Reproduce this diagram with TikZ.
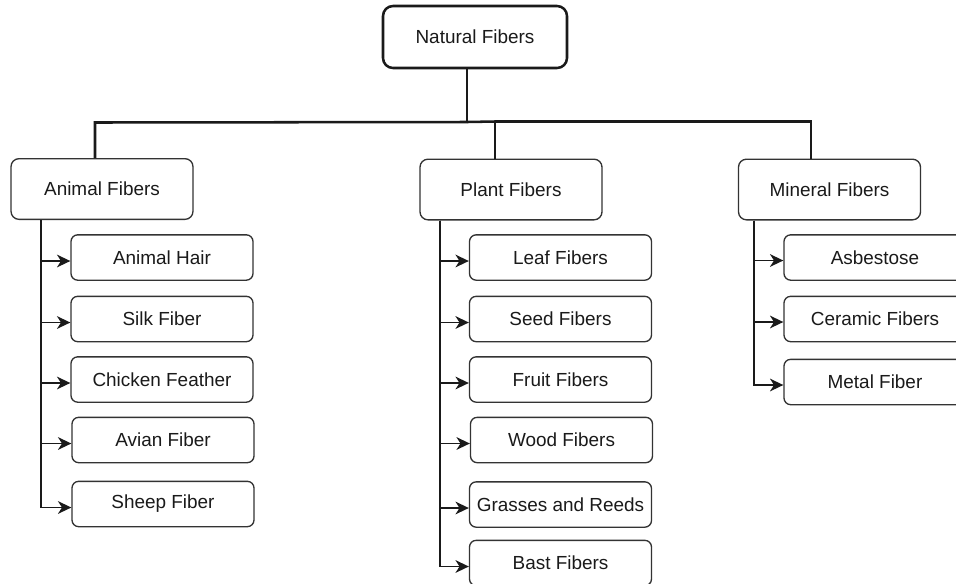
\documentclass[tikz,border=0pt]{standalone}
\usepackage{fontspec}
\setmainfont{Liberation Sans}
\usetikzlibrary{arrows.meta,calc}
\definecolor{ink}{HTML}{1A1A1A}
\definecolor{edge}{HTML}{333333}
\begin{document}
\begin{tikzpicture}[x=0.75pt,y=-0.75pt,
  txt/.style={font=\fontsize{14.2}{17}\selectfont, text=ink, inner sep=0pt},
  topbox/.style={txt, draw=ink, line width=1.9pt, rounded corners=7.5pt, minimum width=138pt, minimum height=46.5pt},
  catbox/.style={txt, draw=edge, line width=1pt, rounded corners=6pt, minimum width=136.5pt, minimum height=45.5pt},
  leafbox/.style={txt, draw=edge, line width=1pt, rounded corners=5pt, minimum width=136.5pt, minimum height=34pt},
  bus/.style={draw=ink, line width=1.9pt},
  conn/.style={draw=ink, line width=1.2pt, -{Stealth[length=10pt,width=9.5pt,inset=3pt]}}
]
\useasboundingbox (0,0) rectangle (956,583);
\fill[white] (0,0) rectangle (956,583);

% top
\node[topbox] (nat) at (475,37) {Natural Fibers};

% categories
\node[catbox] (animal)  at (102,189)    {Animal Fibers};
\node[catbox] (plant)   at (511,189.5)  {Plant Fibers};
\node[catbox] (mineral) at (829.5,189.5){Mineral Fibers};

% animal children
\node[leafbox] (a1) at (162,257.5) {Animal Hair};
\node[leafbox] (a2) at (162,319)   {Silk Fiber};
\node[leafbox] (a3) at (162,379.5) {Chicken Feather};
\node[leafbox] (a4) at (163,440)   {Avian Fiber};
\node[leafbox] (a5) at (163,504)   {Sheep Fiber};

% plant children
\node[leafbox] (p1) at (560.5,257.5) {Leaf Fibers};
\node[leafbox] (p2) at (560.5,319)   {Seed Fibers};
\node[leafbox] (p3) at (560.5,379.5) {Fruit Fibers};
\node[leafbox] (p4) at (561.5,440)   {Wood Fibers};
\node[leafbox] (p5) at (560.5,504.5) {Grasses and Reeds};
\node[leafbox] (p6) at (560.5,563)   {Bast Fibers};

% mineral children
\node[leafbox] (m1) at (875,257.5) {Asbestose};
\node[leafbox] (m2) at (875,319)   {Ceramic Fibers};
\node[leafbox] (m3) at (875,382)   {Metal Fiber};

% bus
\coordinate (b0) at (467,122);
\coordinate (ba) at (95,122.5);
\coordinate (bp) at (495,121.5);
\coordinate (bm) at (811,121.5);
\draw[bus] (b0 |- nat.south) -- (b0);
\draw[bus] (b0) -- (ba) -- (ba |- animal.north);
\draw[bus] (b0) -- (bp);
\draw[bus] (bp |- bm) -- (bm) -- (bm |- mineral.north);
\draw[bus] (bp) -- (bp |- plant.north);

% trunks
\coordinate (ta) at (41,0);
\coordinate (tp) at (440,0);
\coordinate (tm) at (754,0);
\foreach \c in {a1,a2,a3,a4,a5}
  \draw[conn] (ta |- animal.south) |- ($(\c.west)+(0,3.5)$);
\foreach \c in {p1,p2,p3,p4,p5,p6}
  \draw[conn] (tp |- plant.south) |- ($(\c.west)+(0,3.5)$);
\foreach \c in {m1,m2,m3}
  \draw[conn] (tm |- mineral.south) |- ($(\c.west)+(0,3)$);
\end{tikzpicture}
\end{document}
